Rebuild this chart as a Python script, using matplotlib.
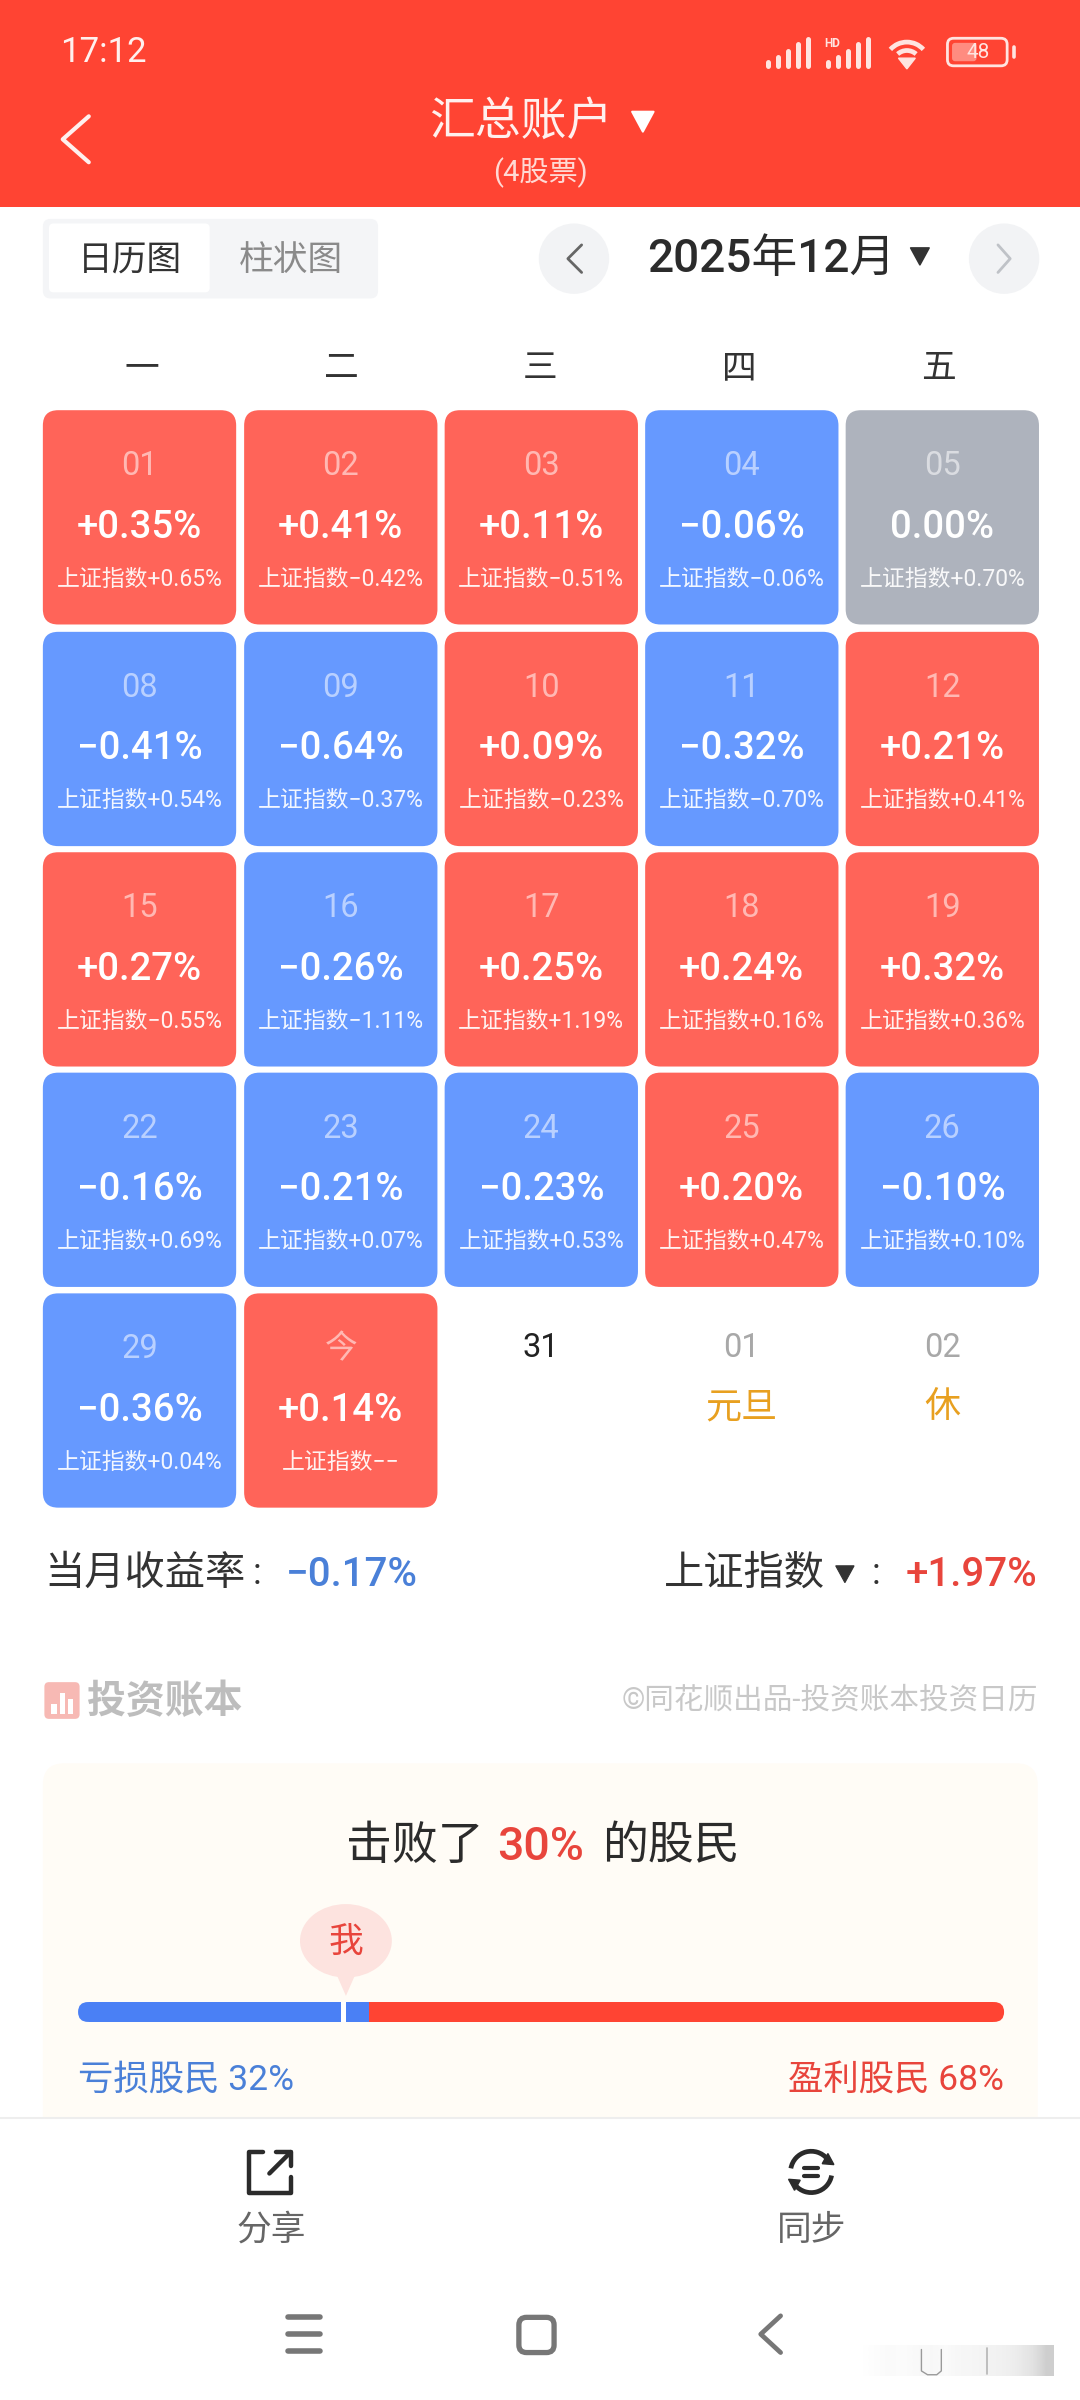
import matplotlib
matplotlib.use("Agg")
import matplotlib.pyplot as plt
from matplotlib.patches import FancyBboxPatch, Rectangle, Polygon, Circle, Ellipse, Arc

FONT = ['Roboto', 'Noto Sans CJK SC', 'DejaVu Sans']
plt.rcParams['font.family'] = FONT

# ---- data ----
weekdays = ['一', '二', '三', '四', '五']
dates = ['01','02','03','04','05','08','09','10','11','12','15','16','17','18','19','22','23','24','25','26','29','今']
returns = [0.35,0.41,0.11,-0.06,0.00,-0.41,-0.64,0.09,-0.32,0.21,0.27,-0.26,0.25,0.24,0.32,-0.16,-0.21,-0.23,0.20,-0.10,-0.36,0.14]
index_returns = [0.65,-0.42,-0.51,-0.06,0.70,0.54,-0.37,-0.23,-0.70,0.41,-0.55,-1.11,1.19,0.16,0.36,0.69,0.07,0.53,0.47,0.10,0.04,None]
future_dates = ['31', '01', '02']
future_notes = ['', '元旦', '休']
month_return = -0.17
month_index = 1.97
lose_share = 32
win_share = 68
beat_share = 30

RED = '#FF6459'; BLUE = '#6699FF'; GRAY = '#AEB3BD'; HEAD = '#FF4433'
DARK = '#2B2B2B'; PALE = '#FFE4E0'

fig = plt.figure(figsize=(10.8, 24), dpi=100)
ax = fig.add_axes([0, 0, 1, 1])
ax.set_xlim(0, 705.6); ax.set_ylim(1568, 0); ax.axis('off')

def T(x, y, s, size, color=DARK, ha='center', weight='normal', alpha=1, z=7, **kw):
    return ax.text(x, y + 1.5, s, fontsize=size, color=color, ha=ha, va='center', fontweight=weight, alpha=alpha, family=FONT, zorder=z, **kw)

def box(x0, y0, x1, y1, r, fc, ec='none', lw=0, z=1):
    p = FancyBboxPatch((x0, y0), x1-x0, y1-y0, boxstyle=f'round,pad=0,rounding_size={r}', fc=fc, ec=ec, lw=lw, zorder=z)
    ax.add_patch(p); return p

def line(xs, ys, color, lw, z=3):
    ax.plot(xs, ys, color=color, lw=lw, solid_capstyle='round', solid_joinstyle='round', zorder=z)

def pct(v):
    if v == 0: return '0.00%'
    return ('+' if v > 0 else '−') + f'{abs(v):.2f}%'

# ---- header ----
ax.add_patch(Rectangle((0, 0), 705.6, 135, fc=HEAD, ec='none'))
T(39, 33, '17:12', 25, '#FFF0EE', ha='left')
for x0 in (502, 541):
    for i, h in enumerate((2.5, 6, 10, 14, 17.5)):
        line([x0 + i*6.5, x0 + i*6.5], [43, 43-h], PALE, 3.6)
T(544, 27, 'HD', 8.5, PALE, weight='bold')
for d, lw, t0, t1 in ((29, 3.4, 222, 318), (18, 3.4, 228, 312)):
    ax.add_patch(Arc((592.5, 42), d, d, theta1=t0, theta2=t1, color=PALE, lw=lw, zorder=3))
ax.add_patch(Polygon([[587, 38], [598, 38], [592.5, 45]], fc=PALE, ec=PALE, lw=1, zorder=3))
box(619, 25, 658, 43, 4, 'none', ec=PALE, lw=2, z=3)
box(622, 28, 638, 40, 2, '#FF8C80', z=2)
line([662.5, 662.5], [31, 37], PALE, 2.6)
T(639, 33, '48', 15, PALE)
line([58, 41, 58], [76, 91, 106], '#FFF0EE', 3)
T(340, 78, '汇总账户', 33, '#FFF0EE')
ax.add_patch(Polygon([[413, 73], [427, 73], [420, 86]], fc='white', ec='white', lw=1.5, joinstyle='round'))
T(353, 111.5, '(4股票)', 21, '#FFD9D4')

# ---- tabs and month ----
box(28, 143, 247, 195, 5, '#F4F5F7')
box(32, 146, 137, 191, 3, 'white', z=2)
T(85, 168.5, '日历图', 25, '#333333')
T(190, 168.5, '柱状图', 25, '#8A8A8A')
ax.add_patch(Circle((375, 169), 23, fc='#F2F3F5', ec='none'))
ax.add_patch(Circle((656, 169), 23, fc='#F2F3F5', ec='none'))
line([380, 371, 380], [160, 169, 178], '#666666', 2)
line([652, 660, 652], [160, 169, 178], '#BFC2C7', 2)
T(504, 167.5, '2025年12月', 33, DARK, weight='medium')
ax.add_patch(Polygon([[595, 162], [607, 162], [601, 173]], fc='#333333', ec='#333333', lw=1.2, joinstyle='round'))

# ---- calendar ----
col_x = [28, 159.5, 290.5, 421.5, 552.5]
cw = 126.3
row_y = [268, 412.8, 556.8, 700.8, 845]
ch = 140
for i, d in enumerate(weekdays):
    T(93 + 130*i, 239.5, d, 25, '#333333')
for k, d in enumerate(dates):
    r, c = divmod(k, 5)
    x, y = col_x[c], row_y[r]
    v = returns[k]
    color = RED if v > 0 else (BLUE if v < 0 else GRAY)
    box(x, y, x+cw, y+ch, 10, color)
    cx = x + cw/2
    T(cx, y+35, d, 23.5, 'white', alpha=0.55)
    T(cx, y+75, pct(v), 27.5, 'white', weight='medium')
    iv = index_returns[k]
    T(cx, y+109, '上证指数' + (pct(iv) if iv is not None else '−−'), 16.5, 'white', alpha=0.92)
for j, (d, n) in enumerate(zip(future_dates, future_notes)):
    c = j + 2
    cx = col_x[c] + cw/2
    T(cx, 879, d, 23.5, '#222222' if j == 0 else '#A8A8A8')
    if n:
        T(cx, 918, n, 26, '#E8A020')

# ---- month summary ----
T(29, 1026.5, '当月收益率', 29, '#333333', ha='left')
T(168, 1027, ':', 26, '#333333')
T(187, 1027.5, pct(month_return), 29, '#4A80D8', ha='left', weight='medium')
T(434, 1026.5, '上证指数', 29, '#333333', ha='left')
ax.add_patch(Polygon([[546, 1023], [558, 1023], [552, 1034]], fc='#333333', ec='#333333', lw=0.8))
T(572, 1027, ':', 26, '#333333')
T(678, 1027.5, pct(month_index), 29, '#E8453C', ha='right', weight='medium')

# ---- brand ----
box(29, 1099, 52, 1123, 3, '#F7B9B4')
for i, h in enumerate((7, 14, 10)):
    ax.add_patch(Rectangle((33.5 + i*5.5, 1120-h), 3.5, h, fc='white', ec='none', zorder=3))
T(57, 1111, '投资账本', 28, '#BDBDBD', ha='left', weight='bold')
T(678, 1109.5, '©同花顺出品-投资账本投资日历', 21.3, '#C8C8C8', ha='right')

# ---- beat panel ----
box(28, 1152, 678, 1400, 14, '#FFFCF6')
T(226, 1204.5, '击败了', 33, DARK, ha='left', weight='medium')
T(325, 1205.5, f'{beat_share}%', 33.5, '#E8453C', ha='left', weight='medium')
T(393, 1204.5, '的股民', 33, DARK, ha='left', weight='medium')
ax.add_patch(Ellipse((226, 1268), 60, 48, fc='#FDE3DF', ec='none', zorder=2))
ax.add_patch(Polygon([[219, 1288], [233, 1288], [226, 1304]], fc='#FDE3DF', ec='none', zorder=2))
T(226, 1267.5, '我', 25, '#E8453C')

bar_l, bar_r = 51, 656
span = bar_r - bar_l
split = bar_l + span * lose_share / (lose_share + win_share) - 3.6
box(bar_l, 1308, bar_l + 30, 1321, 6.5, '#4A80F5', z=2)
ax.add_patch(Rectangle((bar_l + 7, 1308), split - bar_l - 7, 13, fc='#4A80F5', ec='none', zorder=2))
box(bar_r - 30, 1308, bar_r, 1321, 6.5, '#FF4433', z=2)
ax.add_patch(Rectangle((split, 1308), bar_r - 7 - split, 13, fc='#FF4433', ec='none', zorder=2))
ax.add_patch(Rectangle((223, 1308), 3, 13, fc='white', ec='none', zorder=3))
T(51, 1357.5, f'亏损股民 {lose_share}%', 25.5, '#4A80D8', ha='left')
T(656, 1357.5, f'盈利股民 {win_share}%', 25.5, '#E8453C', ha='right')

# ---- bottom bar ----
ax.add_patch(Rectangle((0, 1384), 705.6, 184, fc='white', ec='none', zorder=5))
ax.plot([0, 705.6], [1384, 1384], color='#EEEEEE', lw=1.5, zorder=6)
line([172, 163, 163, 190, 190], [1406, 1406, 1433, 1433, 1422], '#2B2B2B', 3.2, z=6)
line([176, 190], [1420, 1406], '#2B2B2B', 3.2, z=6)
line([180, 190, 190], [1406, 1406, 1415], '#2B2B2B', 3.2, z=6)
T(177, 1455.5, '分享', 25, '#666666')
ax.add_patch(Arc((530, 1419), 27, 27, theta1=190, theta2=320, color='#2B2B2B', lw=3.4, zorder=6))
ax.add_patch(Arc((530, 1419), 27, 27, theta1=10, theta2=140, color='#2B2B2B', lw=3.4, zorder=6))
ax.add_patch(Polygon([[540.9, 1407], [544.8, 1414.2], [537.2, 1413.6]], fc='#2B2B2B', ec='#2B2B2B', lw=1, zorder=6))
ax.add_patch(Polygon([[519.1, 1431], [515.2, 1423.8], [522.8, 1424.4]], fc='#2B2B2B', ec='#2B2B2B', lw=1, zorder=6))
line([525.5, 534.5], [1416.2, 1416.2], '#2B2B2B', 3, z=6)
line([525.5, 534.5], [1421.8, 1421.8], '#2B2B2B', 3, z=6)
T(530, 1455.5, '同步', 25, '#666666')
for y in (1514, 1525, 1536):
    ax.plot([188, 209], [y, y], color='#777777', lw=4, solid_capstyle='round', zorder=6)
box(339, 1514, 362, 1537, 5, 'none', ec='#777777', lw=3.8, z=6)
line([510, 497, 510], [1513, 1525, 1537], '#777777', 3.4, z=6)

# faint watermark strip, bottom right
grad = [[0.0, 0.02, 0.04, 0.03, 0.05, 0.06, 0.04, 0.07, 0.08, 0.10, 0.12, 0.15, 0.20, 0.30]]
ax.imshow(grad, extent=(557, 688, 1552, 1532), cmap='Greys', vmin=0, vmax=1, aspect='auto',
          interpolation='bilinear', zorder=6)
ax.set_xlim(0, 705.6); ax.set_ylim(1568, 0)
line([602, 602, 606, 612, 615, 615], [1535, 1549, 1551.5, 1551.5, 1549, 1535], '#9A9A9A', 1, z=7)
line([645, 645], [1534, 1551], '#B5B5B5', 1.2, z=7)

fig.savefig('out.png', dpi=100)
